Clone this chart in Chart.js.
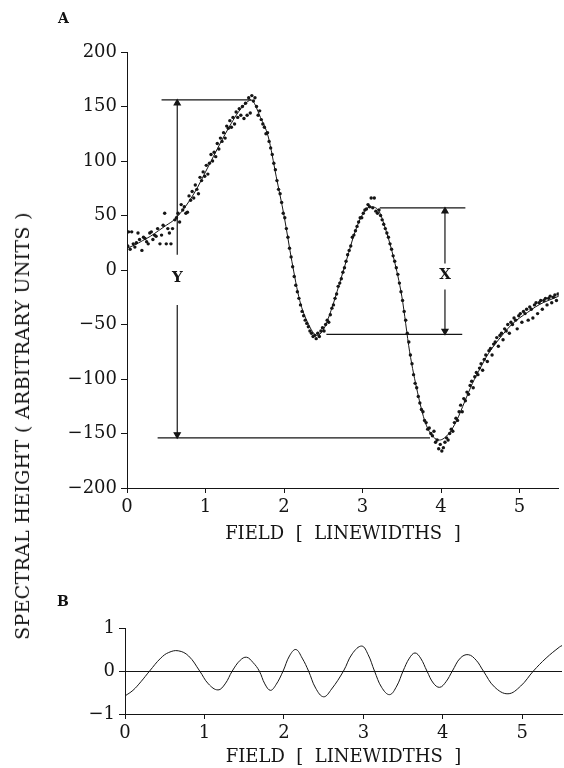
<!DOCTYPE html>
<html>
<head>
<meta charset="utf-8">
<script src="https://cdn.jsdelivr.net/npm/chart.js@4.4.1/dist/chart.umd.min.js"></script>
<style>
  html, body { margin: 0; background: #fff; }
  #page { position: relative; width: 564px; height: 768px; overflow: hidden; background: #fff;
          font-family: "DejaVu Serif", serif; color: #111; }
  .box { position: absolute; left: 0; width: 564px; }
  #topBox { top: 0; height: 548px; }
  #botBox { top: 580px; height: 188px; }
  .tag { position: absolute; font-weight: bold; font-size: 14px; line-height: 14px; }
  #ytitle { position: absolute; left: 22px; top: 426px; white-space: nowrap; font-size: 19px;
            letter-spacing: 0.3px; transform: translate(-50%, -50%) rotate(-90deg); }
</style>
</head>
<body>
<div id="page">
  <div class="box" id="topBox"><canvas id="topChart"></canvas></div>
  <div class="box" id="botBox"><canvas id="botChart"></canvas></div>
  <div class="tag" style="left:58px;top:11px;">A</div>
  <div class="tag" style="left:57px;top:594px;">B</div>
  <div id="ytitle">SPECTRAL HEIGHT ( ARBITRARY UNITS )</div>
</div>
<script>
// axis ticks
const fieldTicks = [0, 1, 2, 3, 4, 5];
const heightTicks = [-200, -150, -100, -50, 0, 50, 100, 150, 200];
const diffTicks = [-1, 0, 1];

// fitted line (panel A)
const fitX = [0, 0.1, 0.2, 0.3, 0.4, 0.5, 0.6, 0.7, 0.8, 0.9, 1.0, 1.1, 1.2, 1.3, 1.4, 1.5, 1.58,
  1.7, 1.8, 1.9, 2.0, 2.1, 2.2, 2.3, 2.42, 2.5, 2.6, 2.7, 2.8, 2.9, 3.0, 3.1, 3.2, 3.3, 3.4, 3.5,
  3.6, 3.7, 3.8, 3.9, 3.98, 4.1, 4.2, 4.3, 4.4, 4.5, 4.6, 4.7, 4.8, 4.9, 5.0, 5.1, 5.2, 5.3, 5.4, 5.5];
const fitY = [20, 23, 27, 31, 36, 41, 46, 54, 64, 76, 90, 104, 118, 131, 143, 152, 156,
  140, 122, 86, 50, 8, -28, -48, -60, -55, -37, -14, 10, 34, 51, 58, 55, 36, 10, -24,
  -75, -112, -140, -153, -156, -150, -138, -121, -104, -90, -77, -67, -58, -50, -44, -39, -34, -30, -27, -24];

// measured points (panel A)
const dotX = [
  0.01, 0.02, 0.04, 0.06, 0.08, 0.10, 0.12, 0.14, 0.16, 0.19,
  0.21, 0.23, 0.25, 0.27, 0.29, 0.31, 0.33, 0.35, 0.37, 0.39,
  0.42, 0.44, 0.46, 0.48, 0.50, 0.52, 0.54, 0.56, 0.58, 0.61,
  0.63, 0.65, 0.67, 0.69, 0.71, 0.73, 0.75, 0.77, 0.79, 0.81,
  0.83, 0.85, 0.87, 0.89, 0.91, 0.93, 0.95, 0.97, 0.99, 1.01,
  1.03, 1.05, 1.07, 1.09, 1.11, 1.13, 1.15, 1.17, 1.19, 1.21,
  1.23, 1.25, 1.27, 1.29, 1.31, 1.33, 1.35, 1.37, 1.39, 1.41,
  1.43, 1.45, 1.47, 1.49, 1.51, 1.53, 1.55, 1.57, 1.59, 1.61,
  1.63, 1.65, 1.67, 1.69, 1.71, 1.73, 1.75, 1.77, 1.79, 1.81,
  1.83, 1.85, 1.87, 1.89, 1.91, 1.93, 1.95, 1.97, 1.99, 2.01,
  2.03, 2.05, 2.07, 2.09, 2.11, 2.13, 2.15, 2.17, 2.19, 2.21,
  2.23, 2.25, 2.27, 2.29, 2.31, 2.33, 2.35, 2.37, 2.39, 2.41,
  2.43, 2.45, 2.47, 2.49, 2.51, 2.53, 2.55, 2.57, 2.59, 2.61,
  2.63, 2.65, 2.67, 2.69, 2.71, 2.73, 2.75, 2.77, 2.79, 2.81,
  2.83, 2.85, 2.87, 2.89, 2.91, 2.93, 2.95, 2.97, 2.99, 3.01,
  3.03, 3.05, 3.07, 3.09, 3.11, 3.13, 3.15, 3.17, 3.19, 3.21,
  3.23, 3.25, 3.27, 3.29, 3.31, 3.33, 3.35, 3.37, 3.39, 3.41,
  3.43, 3.45, 3.47, 3.49, 3.51, 3.53, 3.55, 3.57, 3.59, 3.61,
  3.63, 3.65, 3.67, 3.69, 3.71, 3.73, 3.75, 3.77, 3.79, 3.81,
  3.83, 3.85, 3.87, 3.89, 3.91, 3.93, 3.95, 3.97, 3.99, 4.01,
  4.03, 4.05, 4.07, 4.09, 4.11, 4.13, 4.15, 4.17, 4.19, 4.21,
  4.23, 4.25, 4.27, 4.29, 4.31, 4.33, 4.35, 4.37, 4.39, 4.41,
  4.43, 4.45, 4.47, 4.49, 4.51, 4.53, 4.55, 4.57, 4.59, 4.61,
  4.63, 4.65, 4.67, 4.69, 4.71, 4.73, 4.75, 4.77, 4.79, 4.81,
  4.83, 4.85, 4.87, 4.89, 4.91, 4.93, 4.95, 4.97, 4.99, 5.01,
  5.03, 5.05, 5.07, 5.09, 5.11, 5.13, 5.15, 5.17, 5.19, 5.21,
  5.23, 5.25, 5.27, 5.29, 5.31, 5.33, 5.35, 5.37, 5.39, 5.41,
  5.43, 5.45, 5.47, 5.49];
const dotY = [
  22, 35, 19, 35, 24, 21, 25, 34, 28, 18,
  30, 29, 26, 24, 34, 35, 28, 32, 31, 38,
  24, 32, 41, 52, 24, 38, 34, 24, 38, 46,
  48, 52, 44, 60, 55, 58, 52, 53, 68, 64,
  72, 66, 78, 74, 70, 85, 82, 90, 86, 96,
  88, 98, 106, 100, 108, 104, 116, 111, 121, 118,
  126, 121, 132, 130, 137, 131, 140, 134, 145, 140,
  148, 142, 150, 139, 153, 142, 158, 144, 160, 155,
  158, 150, 142, 146, 138, 134, 131, 125, 126, 118,
  112, 106, 98, 92, 82, 74, 70, 62, 52, 48,
  38, 30, 20, 12, 3, -6, -14, -20, -26, -32,
  -38, -42, -46, -49, -52, -56, -58, -61, -60, -63,
  -58, -61, -56, -53, -56, -50, -46, -48, -41, -35,
  -32, -26, -22, -15, -12, -8, -2, 2, 8, 14,
  18, 22, 30, 32, 36, 40, 44, 48, 48, 52,
  55, 56, 60, 58, 66, 57, 66, 54, 52, 55,
  50, 46, 42, 38, 34, 30, 24, 19, 13, 8,
  2, -4, -12, -20, -28, -38, -46, -58, -66, -78,
  -86, -96, -104, -108, -116, -122, -128, -130, -138, -140,
  -146, -145, -150, -152, -148, -158, -156, -164, -160, -166,
  -163, -158, -154, -156, -150, -146, -148, -140, -136, -138,
  -130, -124, -130, -118, -120, -112, -114, -106, -102, -108,
  -98, -94, -96, -90, -86, -92, -82, -78, -84, -74,
  -72, -78, -68, -66, -62, -70, -60, -58, -64, -54,
  -56, -50, -58, -48, -50, -44, -46, -54, -42, -40,
  -48, -38, -40, -36, -46, -34, -36, -44, -32, -30,
  -40, -30, -28, -36, -28, -26, -32, -26, -24, -30,
  -25, -23, -28, -22];

// measurement guides: horizontal levels and the Y / X arrows
const guideLines = [
  [[0.44, 156], [1.58, 156]],
  [[0.39, -154], [3.86, -154]],
  [[3.22, 57], [4.31, 57]],
  [[2.54, -59], [4.27, -59]]
];
const arrowsUp = [[[0.64, 14], [0.64, 153]], [[4.05, 6], [4.05, 54]]];
const arrowsDown = [[[0.64, -32], [0.64, -151]], [[4.05, -18], [4.05, -56]]];
const markLabels = ['Y', 'X'];
const markX = [0.64, 4.05];
const markY = [-7, -5];

// difference curve (panel B)
const diffX = [0, 0.1, 0.2, 0.31, 0.45, 0.55, 0.67, 0.8, 0.94, 1.05, 1.17, 1.26, 1.35, 1.45, 1.53, 1.61,
  1.69, 1.76, 1.83, 1.9, 1.99, 2.07, 2.15, 2.23, 2.31, 2.4, 2.5, 2.6, 2.75, 2.86, 2.98, 3.06, 3.14,
  3.23, 3.33, 3.42, 3.5, 3.58, 3.65, 3.72, 3.8, 3.88, 3.96, 4.04, 4.12, 4.22, 4.32, 4.42, 4.51,
  4.65, 4.82, 4.98, 5.14, 5.3, 5.47, 5.5];
const diffY = [-0.58, -0.45, -0.25, 0, 0.3, 0.43, 0.47, 0.35, 0, -0.3, -0.44, -0.3, 0, 0.25, 0.32, 0.2,
  0, -0.3, -0.45, -0.32, 0, 0.35, 0.5, 0.3, 0, -0.4, -0.6, -0.42, 0, 0.4, 0.58, 0.38, 0,
  -0.38, -0.55, -0.35, 0, 0.3, 0.42, 0.3, 0, -0.28, -0.38, -0.25, 0, 0.3, 0.38, 0.25, 0,
  -0.37, -0.53, -0.35, 0, 0.3, 0.56, 0.59];

const INK = '#151515';
Chart.defaults.font.family = '"DejaVu Serif", serif';
Chart.defaults.color = INK;

const pts = (xs, ys) => xs.map((x, i) => ({ x: x, y: ys[i] }));
const pair = seg => seg.map(p => ({ x: p[0], y: p[1] }));
const minus = v => (v < 0 ? '\u2212' + Math.abs(v) : String(v));

const markText = {
  id: 'markText',
  afterDatasetsDraw(chart) {
    const { ctx, scales } = chart;
    ctx.save();
    ctx.font = 'bold 15px "DejaVu Serif"';
    ctx.fillStyle = INK;
    ctx.textAlign = 'center';
    ctx.textBaseline = 'middle';
    markLabels.forEach((t, i) => {
      ctx.fillText(t, scales.x.getPixelForValue(markX[i]), scales.y.getPixelForValue(markY[i]));
    });
    ctx.restore();
  }
};

const fieldAxis = (height, titleBottom) => ({
  type: 'linear',
  min: 0,
  max: 5.5,
  afterBuildTicks: s => { s.ticks = fieldTicks.map(v => ({ value: v })); },
  afterFit: s => { s.height = height; },
  grid: { drawOnChartArea: false, tickLength: 5, color: INK },
  border: { color: INK, width: 1 },
  ticks: { font: { size: 18 }, padding: 4, maxRotation: 0, autoSkip: false },
  title: { display: true, text: 'FIELD  [  LINEWIDTHS  ]', font: { size: 18 }, padding: { top: 0, bottom: titleBottom } }
});

const topSets = [
  {
    type: 'scatter', data: pts(dotX, dotY), backgroundColor: INK, borderWidth: 0, pointRadius: 1.7
  },
  {
    type: 'line', data: pts(fitX, fitY), borderColor: INK, borderWidth: 1, pointRadius: 0,
    cubicInterpolationMode: 'monotone', fill: false
  }
];
guideLines.forEach(seg => topSets.push({
  type: 'line', data: pair(seg), borderColor: INK, borderWidth: 1.2, pointRadius: 0, fill: false
}));
arrowsUp.forEach(seg => topSets.push({
  type: 'line', data: pair(seg), borderColor: INK, borderWidth: 1.2, fill: false,
  pointStyle: 'triangle', pointRadius: [0, 3.5], backgroundColor: INK, rotation: 0
}));
arrowsDown.forEach(seg => topSets.push({
  type: 'line', data: pair(seg), borderColor: INK, borderWidth: 1.2, fill: false,
  pointStyle: 'triangle', pointRadius: [0, 3.5], backgroundColor: INK, rotation: 180
}));

new Chart(document.getElementById('topChart'), {
  type: 'scatter',
  data: { datasets: topSets },
  plugins: [markText],
  options: {
    responsive: true,
    maintainAspectRatio: false,
    animation: false,
    layout: { padding: { top: 52, right: 1, left: 0, bottom: 0 } },
    plugins: { legend: { display: false }, tooltip: { enabled: false } },
    scales: {
      x: fieldAxis(60, 3),
      y: {
        type: 'linear',
        min: -200,
        max: 200,
        afterBuildTicks: s => { s.ticks = heightTicks.map(v => ({ value: v })); },
        afterFit: s => { s.width = 127; },
        grid: { drawOnChartArea: false, tickLength: 6, color: INK },
        border: { color: INK, width: 1 },
        ticks: { font: { size: 18 }, padding: 4, callback: v => minus(v) }
      }
    }
  }
});

new Chart(document.getElementById('botChart'), {
  type: 'line',
  data: {
    datasets: [{
      data: pts(diffX, diffY), borderColor: INK, borderWidth: 1, pointRadius: 0,
      tension: 0.4, fill: false
    }]
  },
  options: {
    responsive: true,
    maintainAspectRatio: false,
    animation: false,
    layout: { padding: { top: 48, right: 2, left: 0, bottom: 0 } },
    plugins: { legend: { display: false }, tooltip: { enabled: false } },
    scales: {
      x: fieldAxis(54, 0),
      y: {
        type: 'linear',
        min: -1,
        max: 1,
        afterBuildTicks: s => { s.ticks = diffTicks.map(v => ({ value: v })); },
        afterFit: s => { s.width = 125; },
        grid: {
          tickLength: 6,
          tickColor: INK,
          color: c => (c.tick && c.tick.value === 0 ? INK : 'rgba(0,0,0,0)')
        },
        border: { color: INK, width: 1 },
        ticks: { font: { size: 18 }, padding: 4, callback: v => minus(v) }
      }
    }
  }
});
</script>
</body>
</html>
